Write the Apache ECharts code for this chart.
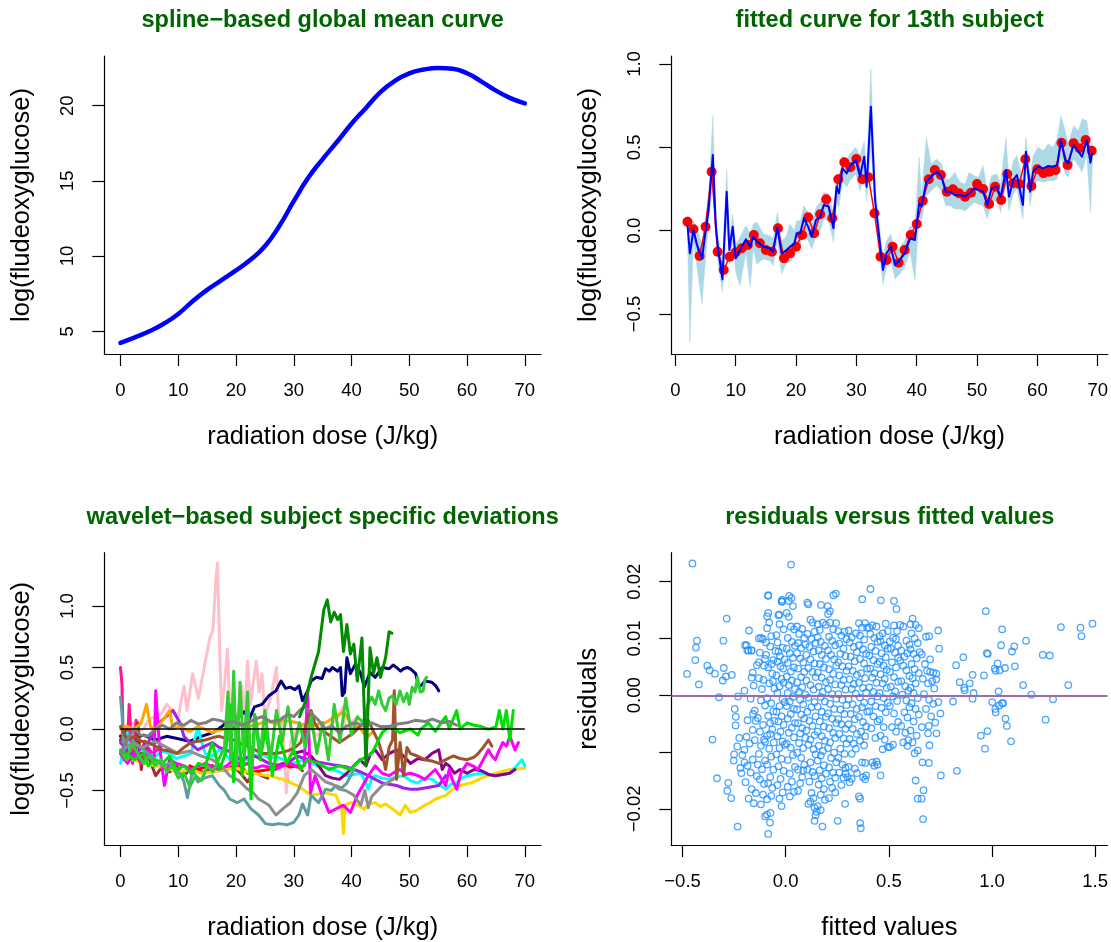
<!DOCTYPE html>
<html><head><meta charset="utf-8">
<script src="https://cdn.jsdelivr.net/npm/echarts@6/dist/echarts.min.js"></script>
<style>html,body{margin:0;padding:0;background:#fff}#c{width:1111px;height:942px}</style>
</head><body><div id="c"></div>
<script>
// ---------------- Panel 1: spline-based global mean curve ----------------
const meanX = [0,2.5,5,7.5,10,12.5,15,17.5,20,22.5,25,27.5,30,32.5,35,37.5,40,42.5,45,47.5,50,52.5,55,57.5,60,62.5,65,67.5,70];
const meanY = [4.23,4.6,5.0,5.5,6.15,7.0,7.75,8.4,9.05,9.75,10.65,12.0,13.65,15.2,16.45,17.6,18.8,19.85,20.9,21.65,22.15,22.4,22.5,22.45,22.15,21.6,21.0,20.5,20.15];

// ---------------- Panel 2: fitted curve for 13th subject ----------------
const redX = [2,3,4,5,6,7,8,9,10,11,12,13,14,15,16,17,18,19,20,21,22,23,24,25,26,27,28,29,30,31,32,33,34,35,36,37,38,39,40,41,42,43,44,45,46,47,48,49,50,51,52,53,54,55,56,57,58,59,60,61,62,63,64,65,66,67,68,69];
const redY = [0.054,0.008,-0.152,0.024,0.354,-0.126,-0.236,-0.156,-0.13,-0.106,
-0.086,-0.026,-0.076,-0.116,-0.126,0.014,-0.166,-0.136,-0.096,-0.026,
0.08,-0.016,0.098,0.188,0.074,0.308,0.41,0.38,0.43,0.308,
0.32,0.104,-0.156,-0.176,-0.096,-0.192,-0.116,-0.026,0.04,0.18,
0.308,0.364,0.334,0.234,0.248,0.224,0.204,0.228,0.28,0.25,
0.16,0.264,0.184,0.34,0.284,0.28,0.428,0.268,0.368,0.344,
0.354,0.364,0.528,0.394,0.524,0.494,0.544,0.48];
const blueX = [2,2.4,3,3.5,4.4,5.5,6.2,6.7,7.1,7.8,8.5,8.95,9.5,10,10.7,11.7,12.4,12.9,13.5,14.6,15.7,16.2,16.9,17.6,18.3,19,19.7,20.1,20.7,21.3,22,22.6,23.3,24,24.6,25.4,26.2,26.7,27.1,27.7,28.4,28.9,29.9,30.6,31.3,31.7,32.4,33.1,33.9,34.4,35,35.7,36.4,37.2,38,38.9,39.7,40.4,40.8,41.6,42.4,43.3,44.1,44.8,45.5,46.3,47.2,48,48.7,49.5,50.2,51,51.7,52.4,53.3,53.9,54.8,55.3,56,56.6,57.6,58.1,58.8,59.3,60.1,61,61.8,62.6,63.3,63.9,64.6,65.1,66,66.8,67.4,68.2,68.8,69.1];
const blueY = [0.034,-0.136,0.004,-0.076,-0.166,0.124,0.454,0.024,-0.116,-0.292,
0.234,-0.116,0.024,-0.166,-0.116,-0.052,-0.096,-0.036,-0.066,-0.096,
-0.106,-0.128,0.018,-0.136,-0.12,-0.096,-0.08,-0.016,-0.016,0.074,
0.024,-0.036,0.064,0.084,0.154,0.144,0.014,0.264,0.224,0.374,
0.344,0.384,0.424,0.324,0.444,0.264,0.744,0.184,-0.076,-0.236,
-0.136,-0.096,-0.206,-0.176,-0.136,-0.046,-0.056,0.164,0.144,0.294,
0.324,0.354,0.324,0.234,0.234,0.214,0.214,0.204,0.224,0.254,
0.244,0.234,0.154,0.254,0.264,0.2,0.364,0.204,0.304,0.334,
0.154,0.474,0.234,0.354,0.384,0.374,0.388,0.384,0.394,0.544,
0.424,0.404,0.514,0.474,0.444,0.544,0.408,0.468];
const bandLo = [-0.02,-0.67,-0.06,-0.2,-0.44,0.05,0.3,-0.05,-0.2,-0.37,
0.05,-0.2,-0.06,-0.25,-0.33,-0.13,-0.34,-0.11,-0.2,-0.17,
-0.18,-0.21,-0.06,-0.26,-0.2,-0.19,-0.16,-0.1,-0.09,-0.01,
-0.06,-0.11,-0.03,0.0,0.07,0.06,-0.07,0.17,0.14,0.29,
0.26,0.3,0.34,0.24,0.35,0.18,0.5,0.1,-0.16,-0.32,
-0.22,-0.18,-0.29,-0.26,-0.22,-0.13,-0.3,0.08,0.06,0.21,
0.24,0.27,0.24,0.15,0.15,0.13,0.13,0.12,0.14,0.17,
0.16,0.15,0.07,0.17,0.18,0.11,0.28,0.12,0.22,0.25,
0.07,0.38,0.15,0.27,0.3,0.29,0.3,0.3,0.31,0.45,
0.34,0.32,0.43,0.39,0.35,0.45,0.11,0.38];
const bandHi = [0.09,0.07,0.06,0.02,-0.08,0.2,0.69,0.12,-0.04,-0.2,
0.37,-0.05,0.1,-0.08,-0.04,0.03,-0.02,0.04,0.05,-0.02,
-0.03,-0.05,0.11,-0.06,-0.04,0.04,0.0,0.06,0.06,0.15,
0.11,0.04,0.14,0.17,0.23,0.22,0.1,0.34,0.3,0.45,
0.42,0.46,0.5,0.45,0.54,0.34,0.97,0.27,0.0,-0.15,
-0.06,-0.02,-0.13,-0.1,-0.06,0.03,0.02,0.44,0.22,0.56,
0.4,0.43,0.4,0.31,0.31,0.35,0.29,0.28,0.35,0.33,
0.32,0.39,0.23,0.33,0.34,0.28,0.56,0.28,0.42,0.45,
0.3,0.56,0.32,0.45,0.5,0.48,0.52,0.5,0.55,0.69,
0.6,0.52,0.63,0.6,0.67,0.66,0.5,0.53];

// ---------------- Panel 3: wavelet-based subject specific deviations ----------------
const devPink = [[0,-0.05],[1,0.02],[2,0.05],[3,-0.02],[4,0.0],[5,0.08],[6,0.1],[7,0.12],[8,0.2],[9,0.15],[10,0.1],[11,0.35],[11.5,0.15],[12.5,0.45],[13.5,0.25],[14.5,0.5],[15.5,0.75],[16,0.8],[16.5,1.2],[16.8,1.35],[17.2,0.6],[17.5,0.15],[18,0.35],[18.5,0.65],[19,0.1],[19.5,0.3],[20,0.0],[21,0.35],[21.5,0.1],[22,0.55],[22.5,0.2],[23.5,0.55],[24,0.3],[24.5,0.45],[25,0.1],[26,0.25],[27,0.5],[27.5,0.0],[28,0.1],[28.7,-0.52],[29.5,-0.1],[30.5,0.0],[32,0.05],[34,-0.05],[36,0.02],[37.5,0.08],[38.5,0.18],[39,0.0],[40.5,0.08],[42,0.0]];
const devDeepPink = [[0,0.5],[0.25,0.37],[0.55,-0.25],[1.2,-0.17],[1.5,0.2],[2.1,-0.28],[2.7,0.07],[3.3,-0.22],[4.2,-0.11],[5.5,-0.2],[7,-0.15]];
const devBrown = [[0,-0.09],[0.8,0.0],[1.5,-0.2],[2.4,-0.25],[3,0.05],[3.6,-0.33],[4.2,-0.1],[4.8,-0.22],[6.1,-0.38],[7.3,-0.3],[8.5,-0.35],[9.7,-0.3],[11,-0.38],[12.2,-0.32],[13.4,-0.33],[14.6,-0.36],[15.9,-0.3],[17.1,-0.32],[18.3,-0.33],[19.5,-0.3],[20.8,-0.36],[22,-0.43],[23.2,-0.35],[24.4,-0.38],[25.5,-0.4]];
const devRed = [[12,-0.3],[13.4,-0.33],[14.6,-0.31],[15.9,-0.3],[17.1,-0.34],[18.3,-0.33],[19.5,-0.31],[20.8,-0.3],[22,-0.36],[23.2,-0.35],[24.4,-0.34],[25.7,-0.33],[27,-0.3],[28.1,-0.28],[29.4,-0.31],[30.6,-0.3],[31.5,-0.34]];
const devGold = [[0,-0.2],[2,-0.25],[4,-0.28],[6,-0.3],[8,-0.32],[10,-0.35],[12,-0.33],[14,-0.36],[16,-0.35],[18,-0.33],[20,-0.32],[22,-0.35],[24,-0.37],[25.7,-0.38],[28.1,-0.41],[30.6,-0.46],[33,-0.54],[35.5,-0.52],[37.3,-0.54],[38.3,-0.65],[38.6,-0.85],[38.9,-0.62],[39.8,-0.6],[41,-0.62],[42.2,-0.65],[43,-0.61],[44.1,-0.6],[45,-0.63],[45.9,-0.61],[47.1,-0.65],[48.4,-0.7],[49.3,-0.62],[50.2,-0.68],[51.4,-0.66],[52.7,-0.62],[53.6,-0.6],[54.5,-0.57],[56.3,-0.54],[57.6,-0.49],[58.8,-0.46],[60.6,-0.44],[62.5,-0.4],[64.9,-0.36],[67.4,-0.33],[70,-0.32]];
const devCyan = [[0,-0.28],[0.6,-0.15],[1.2,-0.03],[1.8,-0.25],[2.6,-0.2],[3.6,-0.17],[4.8,-0.2],[6.1,-0.22],[7.3,-0.18],[8.5,-0.2],[9.7,-0.24],[11,-0.22],[12.2,-0.2],[13.4,0.02],[14,-0.1],[14.7,-0.2],[15.9,-0.22],[17.1,-0.17],[18.4,-0.22],[19.6,-0.28],[20.8,-0.26],[22,-0.25],[23.2,-0.22],[24.5,-0.2],[25.7,-0.24],[26.9,-0.22],[28.1,-0.25],[29.4,-0.28],[30.6,-0.27],[31.8,-0.25],[33,-0.28],[34.3,-0.3],[35.5,-0.31],[36.7,-0.33],[37.9,-0.35],[39.2,-0.38],[40.4,-0.37],[41.6,-0.36],[42.3,-0.42],[42.9,-0.49],[43.5,-0.4],[44.1,-0.38],[45.3,-0.4],[46.5,-0.41],[47.8,-0.39],[49,-0.38],[50.2,-0.42],[51.4,-0.44],[52.7,-0.4],[53.9,-0.41],[55.1,-0.45],[56.3,-0.49],[57.2,-0.45],[58.2,-0.44],[59.1,-0.4],[60,-0.38],[61.2,-0.37],[62.5,-0.36],[63.7,-0.37],[64.9,-0.38],[66.2,-0.37],[67.4,-0.36],[68.6,-0.3],[69.5,-0.25],[70,-0.3]];
const devPurple = [[0,-0.11],[1.2,-0.18],[2.4,-0.22],[3.6,-0.15],[4.8,-0.11],[5.8,-0.02],[6.7,0.05],[7.9,0.1],[9.1,0.15],[9.7,0.1],[10.3,0.05],[11,-0.06],[12.2,-0.12],[13.4,-0.17],[14.6,-0.14],[15.9,-0.11],[17.1,-0.15],[18.3,-0.17],[19.5,-0.2],[20.8,-0.25],[22,-0.23],[23.2,-0.22],[24.5,-0.25],[25.7,-0.28],[26.9,-0.29],[28.1,-0.3],[29.4,-0.26],[30.6,-0.22],[31.8,-0.24],[33,-0.25],[34.3,-0.27],[35.5,-0.28],[36.7,-0.29],[37.9,-0.3],[39.2,-0.31],[40.4,-0.33],[41.6,-0.35],[42.9,-0.38],[44.1,-0.41],[45.3,-0.44],[46.5,-0.45],[47.8,-0.46],[49,-0.48],[50.2,-0.49],[51.4,-0.49],[52.7,-0.48],[53.9,-0.47],[55.1,-0.46],[55.7,-0.42],[56.3,-0.38]];
const devDarkMagenta = [[30,-0.2],[31.5,-0.18],[33,-0.22],[34.3,-0.3],[35.5,-0.38],[36.7,-0.4],[37.9,-0.41],[39.2,-0.36],[40.4,-0.3],[41.5,-0.25],[42.5,-0.3],[43.3,-0.2],[44.1,-0.17],[45.3,-0.25],[46.5,-0.2],[47.8,-0.17],[49,-0.22],[50.2,-0.28],[51.5,-0.24],[52.7,-0.25],[53.9,-0.2],[55.1,-0.17],[55.7,-0.33],[56.3,-0.28],[56.9,-0.3],[57.8,-0.36],[58.8,-0.33],[60,-0.36],[61.2,-0.33],[62.5,-0.34],[63.7,-0.37],[64.9,-0.38],[66.2,-0.37],[67.4,-0.36],[68.3,-0.33]];
const devMagenta = [[0,-0.2],[1.2,-0.28],[2.4,-0.2],[3.6,-0.28],[4.8,-0.17],[5.8,-0.28],[6.1,0.31],[6.7,-0.11],[7.6,-0.46],[8.5,-0.25],[9.7,-0.28],[11,-0.3],[12.2,-0.33],[13.5,-0.3],[14.7,-0.28],[16,-0.31],[17.1,-0.33],[18.4,-0.3],[19.6,-0.25],[21,-0.3],[22,-0.28],[23.3,-0.32],[24.5,-0.3],[25.7,-0.31],[26.9,-0.33],[28.1,-0.3],[29.4,-0.28],[30.6,-0.31],[31.8,-0.3],[32.4,0.31],[32.9,-0.52],[33.7,-0.38],[34.9,-0.54],[36.1,-0.68],[37.3,-0.65],[38.6,-0.62],[39.8,-0.68],[41,-0.54],[42.9,-0.38],[44.1,-0.3],[45.3,-0.36],[46.5,-0.38],[47.5,-0.35],[48.4,-0.33],[49.3,-0.37],[50.2,-0.36],[51.5,-0.38],[52.7,-0.41],[53.6,-0.37],[54.5,-0.33],[55.5,-0.4],[56.3,-0.46],[56.9,-0.33],[57.5,-0.42],[58.2,-0.49],[59,-0.35],[60,-0.28],[61,-0.3],[61.9,-0.33],[62.8,-0.25],[63.7,-0.17],[64.3,-0.22],[64.9,-0.25],[65.5,-0.18],[66.2,-0.11],[66.8,-0.14],[67.4,-0.06],[68.3,-0.17],[68.9,-0.11]];
const devCadet = [[0,0.26],[0.3,0.1],[0.5,-0.11],[1.5,-0.05],[2.4,-0.11],[3.5,-0.15],[4.8,-0.2],[6,-0.25],[7.3,-0.3],[8.5,-0.28],[9.7,-0.33],[10.5,-0.38],[11,-0.43],[11.6,-0.56],[12.5,-0.33],[13.4,-0.43],[14.5,-0.4],[15.9,-0.38],[17.1,-0.46],[18,-0.5],[18.9,-0.57],[20.2,-0.6],[21.4,-0.57],[22.6,-0.65],[23.9,-0.7],[25.1,-0.77],[26.3,-0.78],[27.5,-0.77],[28.8,-0.78],[30,-0.76],[30.9,-0.7],[31.5,-0.61],[32.4,-0.7],[33,-0.54],[34.3,-0.6],[35.5,-0.49],[36.5,-0.5],[37.3,-0.46],[38.3,-0.48],[39.2,-0.44],[40.4,-0.33]];
const devGray2 = [[0,-0.18],[2,-0.12],[4,-0.15],[6,-0.1],[8,-0.15],[10,-0.2],[12,-0.18],[14,-0.22],[15.9,-0.25],[17.5,-0.3],[18.9,-0.38],[20.5,-0.42],[22,-0.49],[23,-0.52],[23.9,-0.57],[25,-0.6],[25.7,-0.62],[26.9,-0.7],[28.1,-0.65],[29.4,-0.6],[30.6,-0.52],[31.8,-0.38],[33,-0.33],[34.3,-0.38],[35.5,-0.43],[36.7,-0.45],[37.9,-0.49],[39,-0.5],[40.4,-0.54],[41.6,-0.62],[42.3,-0.5],[42.9,-0.64],[43.5,-0.55],[44.1,-0.52],[45.3,-0.46],[46.5,-0.43],[47.5,-0.4]];
const devOrange = [[0,0.0],[1.2,0.02],[2.4,0.0],[3.6,0.05],[4.5,0.2],[5.2,0.02],[6.1,0.0],[7,0.05],[8.5,0.15],[9.1,0.0],[10,0.02],[11,0.0],[12,-0.02],[13.4,0.02],[14.5,0.0],[15.9,-0.03],[17,-0.01],[18.3,0.0],[19.5,0.03],[20.8,0.05],[22,0.02],[23.2,0.03],[24.5,0.05],[25.7,0.06],[27,0.04],[28.1,0.07],[29.5,0.06],[30.6,0.05],[31.8,0.03],[33,0.02],[34.3,0.04],[35.5,0.05],[36.5,0.08],[37.3,0.1],[38.6,0.14],[39.2,0.1],[39.8,0.05],[40.7,0.02],[41.6,0.0],[42.2,-0.04],[42.9,-0.06],[43.5,-0.03]];
const devSienna = [[0,0.02],[1.2,-0.09],[2.4,-0.06],[3.6,-0.1],[4.8,-0.11],[6,-0.14],[7.3,-0.17],[8.5,-0.18],[9.7,-0.2],[11,-0.15],[12.2,-0.11],[13.5,-0.1],[14.7,-0.09],[16,-0.07],[17.1,-0.06],[18.4,-0.08],[19.6,-0.09],[20.8,-0.12],[22,-0.14],[23.3,-0.17],[24.5,-0.2],[25.7,-0.2],[26.9,-0.2],[28.1,-0.19],[29.4,-0.17],[30.5,-0.14],[31.2,-0.11],[32.2,0.05],[33,0.15],[33.6,0.05],[34.3,0.0],[35.5,-0.03],[36.7,-0.07],[37.9,-0.11],[39.2,-0.07],[40.4,-0.03],[41.6,0.03],[42.9,0.07],[43.8,-0.02],[44.7,-0.11],[45.3,-0.2],[45.9,-0.33],[46.5,-0.15],[47.1,-0.09],[47.4,0.31],[47.8,-0.41],[48.4,-0.11],[49,-0.38],[49.6,-0.15],[50.2,-0.2],[51.4,-0.22],[52.7,-0.25],[53.9,-0.26],[55.1,-0.28],[56.3,-0.25],[57.6,-0.22],[58.8,-0.24],[60,-0.25],[61.2,-0.23],[61.9,-0.2],[62.8,-0.15],[63.7,-0.09],[64.3,-0.14]];
const devGreenBright = [[0,-0.17],[1.5,-0.22],[2.4,-0.25],[4,-0.2],[4.8,-0.3],[6,-0.25],[7.3,-0.28],[8.5,-0.22],[9.7,-0.33],[11,-0.3],[12.2,-0.36],[13.5,-0.28],[14.7,-0.3],[15.9,-0.11],[17.1,-0.33],[18.2,-0.2],[18.9,0.2],[19.6,-0.43],[20.2,0.1],[21.1,-0.38],[22,0.05],[22.6,-0.57],[23.2,0.12],[24.2,-0.25],[25.1,0.0],[26.3,-0.38],[27.5,-0.06],[28.8,-0.28],[30,-0.17],[31.2,-0.33],[32.4,-0.25],[34.3,-0.28],[36.1,-0.33],[37.9,-0.3],[39.8,-0.33],[41.6,-0.25],[43.5,-0.2],[45.3,-0.03],[46.5,0.02],[48.4,-0.03],[50.2,0.0],[51.5,-0.05],[52,0.0],[53.3,0.05],[54.5,-0.02],[55.5,0.05],[56.3,0.1],[56.9,0.0],[58.2,0.15],[58.8,0.0],[60,0.05],[61.2,0.03],[62.5,0.02],[63.5,0.0],[64,0.0],[65,0.02],[65.6,0.15],[66.2,0.0],[66.8,0.15],[67.4,-0.09],[68,0.15]];
const devLime = [[0,-0.18],[1,-0.25],[2,-0.12],[3,-0.2],[4,-0.28],[5,-0.22],[6,-0.3],[7,-0.25],[8,-0.35],[9,-0.3],[10,-0.4],[11,-0.36],[12,-0.47],[13,-0.38],[14,-0.42],[15,-0.3],[16,-0.35],[17,-0.25],[18,-0.15],[18.6,0.3],[19.1,-0.25],[19.6,0.47],[20.1,-0.3],[20.7,0.38],[21.3,-0.2],[22,0.3],[22.6,-0.35],[23.4,0.1],[24.2,-0.2],[25,0.15],[26,-0.25],[27,0.15],[28,-0.1],[29,0.18],[30,-0.15],[31,0.05],[32,-0.15],[33,0.1],[34,-0.2],[35,0.05],[36,-0.25],[37,0.2],[38,-0.1],[39,0.25],[40,-0.05],[41,0.1],[42,0.05],[42.8,0.2],[43.5,0.26],[44.1,0.2],[44.7,0.31],[45.3,0.2],[45.9,0.15],[46.5,0.25],[47.1,0.27],[47.7,0.2],[48.4,0.31],[49,0.22],[49.6,0.29],[50,0.2],[50.5,0.34],[51,0.3],[51.4,0.42],[51.9,0.3],[52.4,0.31],[52.7,0.4],[53,0.42]];
const devGray = [[0,-0.2],[1,-0.1],[2.4,0.0],[3.5,-0.05],[4.8,-0.06],[6,0.0],[7.3,0.03],[8.5,0.0],[9.7,0.05],[11,0.03],[12.2,0.07],[13.5,0.04],[14.7,0.05],[16,0.08],[17.1,0.07],[18.5,0.05],[19.6,0.06],[21,0.03],[22,0.05],[23.3,0.08],[24.5,0.1],[26,0.06],[27.5,0.07],[29,0.12],[30,0.1],[31,0.15],[31.8,0.18],[33,0.13],[34.3,0.07],[35.5,0.0],[36.7,0.02],[37.9,-0.03],[39,0.02],[40.4,0.05],[42,0.03],[43.5,0.05],[45,0.02],[46.5,0.02],[48,0.04],[49.6,0.05],[51,0.07],[52.7,0.06],[54,0.08],[55.7,0.05],[57,0.06],[58.2,0.03]];
const devNavy = [[0,-0.06],[2,-0.08],[4,-0.05],[6,-0.09],[8,-0.06],[10,-0.08],[12,-0.1],[14,-0.06],[16,-0.03],[17,0.0],[18.3,0.05],[19.5,0.0],[20.5,0.1],[21.4,0.14],[22.3,0.08],[23.2,0.18],[24.5,0.2],[25.7,0.27],[26.9,0.31],[27.8,0.39],[28.6,0.33],[29.4,0.34],[30.2,0.32],[30.9,0.35],[31.5,0.23],[32.4,0.31],[33,0.39],[33.9,0.42],[34.9,0.41],[35.5,0.49],[36.2,0.47],[36.7,0.5],[37.6,0.47],[38.1,0.5],[38.4,0.27],[38.8,0.3],[39.2,0.58],[39.8,0.45],[40.7,0.53],[41.6,0.45],[42.2,0.34],[43.2,0.46],[44.1,0.42],[45.3,0.5],[46.5,0.49],[47.2,0.52],[47.8,0.5],[48.5,0.47],[49,0.49],[49.6,0.5],[50.2,0.49],[51.1,0.45],[51.7,0.34],[52.2,0.36],[52.7,0.39],[53.9,0.38],[54.6,0.35],[55.1,0.31]];
const devDarkGreen = [[31,0.1],[32,0.22],[33,0.42],[34.3,0.63],[35.2,0.97],[35.8,1.05],[36.4,0.87],[37,0.95],[37.6,0.89],[38.1,0.93],[38.6,0.63],[39.2,0.85],[39.8,0.61],[40.4,0.69],[41,0.39],[41.8,0.74],[42.2,0.15],[42.5,-0.3],[42.8,0.1],[43.2,0.66],[43.8,0.45],[44.4,0.58],[45,0.42],[45.9,0.58],[46.5,0.79],[47,0.78]];
const zeroLineX = [0, 70];
const zeroLineY = [0, 0];

// ---------------- Panel 4: residuals versus fitted values ----------------
const residSparse = [[-0.452,0.0232],[0.026,0.0230],[-0.478,0.00375],[-0.438,0.0062],[-0.435,0.0084],[-0.43,0.0096],[-0.421,0.0019],[-0.38,0.0052],[-0.369,0.0044],[-0.343,0.0038],[-0.323,-0.00035],[-0.355,-0.0078],[-0.302,0.0096],[-0.305,0.0026],[-0.3,0.0048],[-0.286,0.0135],[-0.29,0.0033],[-0.261,0.0036],[-0.333,-0.0146],[-0.283,-0.0168],[-0.278,-0.0154],[-0.264,-0.0181],[-0.247,-0.0024],[-0.242,-0.0038],[-0.243,-0.0053],[-0.231,-0.0002],[-0.233,-0.0231],[-0.235,-0.009],[-0.25,-0.0104],[-0.252,-0.0115],[-0.178,0.0114],[-0.197,0.0088],[-0.186,0.0079],[-0.166,0.0079],[-0.085,0.0176],[-0.085,0.0145],[-0.085,-0.0244],[-0.1,-0.0213],[-0.091,-0.021],[-0.076,-0.0224],[-0.074,-0.0207],[-0.031,0.0142],[-0.017,0.0165],[-0.017,0.0168],[0.017,0.0175],[0.171,0.0159],[0.204,0.0157],[0.214,0.0148],[0.231,0.0176],[0.243,0.0179],[0.178,-0.0231],[0.252,-0.0221],[0.288,-0.0191],[0.361,-0.0225],[0.364,-0.0234],[0.355,-0.0178],[0.361,-0.0182],[0.371,0.0169],[0.411,0.0187],[0.461,0.0167],[0.525,0.0166],[0.537,0.0152],[0.666,-0.0218],[0.668,-0.0167],[0.63,-0.015],[0.64,-0.0182],[0.659,-0.0182],[0.752,-0.0141],[0.694,-0.0119],[0.663,-0.0118],[0.697,-0.0088],[0.731,-0.0067],[0.694,-0.0054],[0.75,-0.0032],[0.744,0.0082],[0.739,0.0114],[0.695,0.0104],[0.83,-0.0133],[0.811,-0.0011],[0.826,0.0053],[0.844,0.0023],[0.861,0.0067],[0.865,0.0013],[0.868,0.0009],[0.892,0.0021],[0.906,0.0036],[0.911,0.0004],[0.906,-0.0006],[0.946,-0.0071],[0.961,0.0035],[0.97,0.0148],[0.966,-0.0094],[0.978,-0.0063],[0.975,0.0074],[0.98,0.0073],[1.001,-0.0012],[1.013,0.0047],[1.018,0.0043],[1.016,-0.0024],[1.018,-0.003],[1.027,0.0056],[1.032,0.0007],[1.037,0.0044],[1.035,-0.0018],[1.044,0.0088],[1.049,0.0116],[1.049,-0.0014],[1.054,-0.0014],[1.063,0.0048],[1.065,-0.0041],[1.072,-0.0054],[1.092,-0.0081],[1.097,0.0077],[1.108,0.0086],[1.111,0.0051],[1.151,0.0018],[1.165,0.0096],[1.191,0.0001],[1.246,0.0071],[1.26,-0.0043],[1.28,0.007],[1.296,-0.0007],[1.334,0.012],[1.37,0.0018],[1.429,0.0119],[1.434,0.0104],[1.487,0.0126]];
const residCloud = [
[-0.19,0.0088],[-0.18,0.0079],[-0.165,0.0079],[-0.2,0.0008],[-0.17,-0.0006],[-0.185,-0.0044],[-0.16,-0.0061],[-0.19,-0.0073],[-0.175,-0.0085],[-0.2,-0.0096],[-0.16,-0.0113],[-0.185,-0.0124],[-0.17,-0.0136],[-0.195,-0.0153],[-0.165,-0.0165],[-0.18,-0.0182],[-0.155,-0.019],[-0.2,-0.0118],[-0.21,-0.0105],[-0.22,-0.0128],[-0.215,-0.0137],[-0.225,-0.0075],[-0.16,0.004],[-0.165,0.0031],[-0.155,0.0017],[-0.15,-0.0027],[-0.158,-0.0033],[-0.145,-0.0045],[-0.15,-0.0079],[-0.14,-0.0142],[-0.145,-0.0172],[-0.135,-0.0122],[-0.14,0.0053],[-0.13,0.01],
[-0.13,0.0058],[-0.12,0.0101],[-0.11,0.0099],[-0.125,0.0075],[-0.105,0.0052],[-0.13,0.003],[-0.115,0.0011],[-0.12,-0.0009],[-0.1,-0.0018],[-0.135,-0.004],[-0.11,-0.0052],[-0.125,-0.0064],[-0.105,-0.0078],[-0.12,-0.0089],[-0.13,-0.0103],[-0.1,-0.0115],[-0.115,-0.013],[-0.125,-0.0148],[-0.105,-0.0156],[-0.11,-0.0175],[-0.12,-0.0192],[-0.1,-0.0082],[-0.108,0.0027],[-0.1,0.0064],[-0.095,0.0093],[-0.09,0.0118],
[-0.09,0.0139],[-0.085,0.0175],[-0.08,0.0128],[-0.075,0.0086],[-0.07,0.0104],[-0.095,0.0071],[-0.06,0.0062],[-0.085,0.0049],[-0.065,0.0038],[-0.08,0.0021],[-0.055,0.0012],[-0.09,-0.0005],[-0.07,-0.0014],[-0.06,-0.0028],[-0.085,-0.0036],[-0.075,-0.0049],[-0.065,-0.006],[-0.09,-0.0071],[-0.058,-0.0083],[-0.08,-0.0094],[-0.07,-0.0108],[-0.09,-0.0122],[-0.06,-0.0131],[-0.075,-0.0144],[-0.085,-0.0155],[-0.065,-0.0163],[-0.07,-0.0177],[-0.09,-0.0183],[-0.075,-0.0068],[-0.055,-0.0045],[-0.062,0.0025],[-0.068,0.0055],[-0.05,0.0078],
[-0.045,0.0106],[-0.03,0.0125],[-0.02,0.0165],[-0.04,0.0093],[-0.01,0.0116],[-0.035,0.0077],[-0.015,0.0084],[-0.04,0.0059],[-0.025,0.0051],[-0.005,0.0063],[-0.045,0.0035],[-0.02,0.0029],[-0.03,0.0016],[-0.01,0.0022],[-0.04,0.0004],[-0.015,-0.0006],[-0.03,-0.0019],[-0.005,-0.0012],[-0.045,-0.0029],[-0.02,-0.0037],[-0.035,-0.0046],[-0.01,-0.0052],[-0.025,-0.0064],[-0.04,-0.0072],[-0.015,-0.0081],[-0.03,-0.0093],[-0.005,-0.0087],[-0.045,-0.0104],[-0.02,-0.0112],[-0.035,-0.0125],[-0.01,-0.0133],[-0.025,-0.0147],[-0.04,-0.0158],[-0.015,-0.0171],[-0.03,-0.0182],[-0.02,-0.0195],[-0.035,0.0141],[-0.012,0.0047],[-0.028,0.0069],
[0.005,0.0145],[0.015,0.0138],[0.025,0.0121],[0.04,0.0116],[0.01,0.0101],[0.03,0.0094],[0.045,0.0087],[0.005,0.0082],[0.02,0.0074],[0.035,0.0066],[0.01,0.0057],[0.04,0.0049],[0.025,0.0042],[0.005,0.0033],[0.03,0.0026],[0.015,0.0018],[0.045,0.0011],[0.01,0.0004],[0.035,-0.0003],[0.02,-0.0011],[0.005,-0.0019],[0.04,-0.0024],[0.025,-0.0033],[0.01,-0.0041],[0.045,-0.0049],[0.03,-0.0057],[0.015,-0.0066],[0.04,-0.0074],[0.005,-0.0085],[0.025,-0.0092],[0.035,-0.0105],[0.01,-0.0114],[0.045,-0.0126],[0.02,-0.0138],[0.03,-0.0152],[0.01,-0.0161],[0.04,-0.017],[0.02,-0.0178],[0.035,0.0157],[0.015,0.0166],[0.028,0.0171],
[0.055,0.0121],[0.065,0.0108],[0.08,0.0117],[0.09,0.0101],[0.06,0.0092],[0.075,0.0083],[0.095,0.0089],[0.055,0.0074],[0.07,0.0065],[0.085,0.0058],[0.06,0.0047],[0.09,0.0041],[0.075,0.0032],[0.055,0.0023],[0.08,0.0014],[0.065,0.0006],[0.095,0.0001],[0.07,-0.0008],[0.085,-0.0016],[0.055,-0.0025],[0.075,-0.0034],[0.09,-0.0041],[0.06,-0.0049],[0.08,-0.0058],[0.07,-0.0067],[0.095,-0.0075],[0.065,-0.0084],[0.085,-0.0093],[0.055,-0.0101],[0.075,-0.011],[0.09,-0.0122],[0.06,-0.0131],[0.08,-0.0144],[0.07,-0.0155],[0.06,-0.0168],[0.085,-0.0132],
[0.105,0.0163],[0.11,0.016],[0.12,0.0133],[0.13,0.0128],[0.14,0.0112],[0.105,0.0108],[0.125,0.0099],[0.145,0.0092],[0.115,0.0085],[0.135,0.0077],[0.1,0.0071],[0.12,0.0063],[0.14,0.0056],[0.11,0.0048],[0.13,0.0041],[0.145,0.0032],[0.1,0.0026],[0.12,0.0018],[0.135,0.001],[0.11,-0.0004],[0.14,-0.0012],[0.125,-0.0021],[0.105,-0.0029],[0.145,-0.0037],[0.115,-0.0045],[0.13,-0.0054],[0.1,-0.0062],[0.14,-0.007],[0.12,-0.0078],[0.11,-0.0087],[0.135,-0.0095],[0.145,-0.0104],[0.12,-0.0118],[0.105,-0.0131],[0.13,-0.0135],[0.14,-0.0142],[0.115,-0.0152],[0.125,-0.0172],[0.135,-0.0181],[0.11,-0.0191],[0.14,-0.0198],[0.12,-0.0187],[0.145,-0.0211],[0.14,-0.0221],[0.15,-0.0205],
[0.155,0.0125],[0.165,0.0115],[0.18,0.0128],[0.195,0.0124],[0.155,0.0102],[0.17,0.0094],[0.19,0.0087],[0.16,0.0079],[0.175,0.0071],[0.195,0.0064],[0.165,0.0055],[0.185,0.0049],[0.155,0.004],[0.175,0.0031],[0.195,0.0023],[0.16,0.0015],[0.18,0.0006],[0.17,-0.0003],[0.19,-0.0011],[0.155,-0.002],[0.175,-0.0029],[0.195,-0.0038],[0.165,-0.0046],[0.185,-0.0055],[0.155,-0.0064],[0.175,-0.0072],[0.19,-0.008],[0.16,-0.0089],[0.18,-0.0098],[0.17,-0.0106],[0.155,-0.0115],[0.185,-0.0123],[0.165,-0.0132],[0.195,-0.0138],[0.175,-0.0146],[0.16,-0.0157],[0.185,-0.0165],[0.17,-0.0175],[0.19,-0.0184],[0.155,-0.0195],[0.17,-0.0202],
[0.205,0.0143],[0.215,0.0128],[0.23,0.0116],[0.245,0.0127],[0.21,0.0103],[0.225,0.0096],[0.24,0.0088],[0.205,0.0079],[0.22,0.0071],[0.235,0.0063],[0.245,0.0052],[0.21,0.0046],[0.23,0.0038],[0.215,0.0027],[0.24,0.0019],[0.205,0.0011],[0.225,0.0002],[0.245,-0.0006],[0.215,-0.0015],[0.235,-0.0024],[0.205,-0.0032],[0.225,-0.0041],[0.245,-0.0049],[0.21,-0.0058],[0.23,-0.0066],[0.24,-0.0075],[0.215,-0.0083],[0.205,-0.0093],[0.235,-0.0101],[0.22,-0.011],[0.245,-0.0118],[0.21,-0.0127],[0.23,-0.0136],[0.24,-0.0145],[0.215,-0.0152],[0.225,-0.0163],[0.24,-0.0171],[0.21,-0.0181],
[0.255,0.0113],[0.27,0.0105],[0.285,0.0112],[0.295,0.0099],[0.26,0.0091],[0.28,0.0082],[0.265,0.0073],[0.29,0.0069],[0.255,0.0058],[0.275,0.0051],[0.295,0.0043],[0.26,0.0035],[0.28,0.0027],[0.27,0.0018],[0.29,0.001],[0.255,0.0002],[0.275,-0.0008],[0.295,-0.0017],[0.265,-0.0025],[0.285,-0.0033],[0.255,-0.0042],[0.27,-0.0051],[0.29,-0.0059],[0.26,-0.0068],[0.28,-0.0076],[0.295,-0.0085],[0.265,-0.0094],[0.285,-0.0103],[0.255,-0.011],[0.275,-0.0122],[0.29,-0.0128],[0.26,-0.0136],[0.28,-0.0145],[0.27,-0.0158],[0.29,-0.0138],[0.3,-0.0144],
[0.305,0.0114],[0.32,0.0102],[0.34,0.0109],[0.31,0.0093],[0.33,0.0085],[0.345,0.0076],[0.315,0.0068],[0.335,0.006],[0.305,0.0051],[0.325,0.0043],[0.345,0.0036],[0.31,0.0028],[0.33,0.002],[0.32,0.0011],[0.34,0.0003],[0.305,-0.0007],[0.325,-0.0016],[0.345,-0.0024],[0.315,-0.0033],[0.335,-0.0042],[0.305,-0.0051],[0.325,-0.0059],[0.345,-0.0068],[0.31,-0.0077],[0.33,-0.0085],[0.34,-0.0094],[0.32,-0.0103],[0.305,-0.0126],[0.335,-0.0129],[0.345,-0.0137],[0.32,-0.0147],[0.31,-0.0153],
[0.355,0.0127],[0.37,0.0119],[0.385,0.0127],[0.395,0.0119],[0.36,0.0105],[0.38,0.0098],[0.355,0.0088],[0.375,0.0081],[0.39,0.0073],[0.36,0.0064],[0.38,0.0056],[0.395,0.0047],[0.365,0.0039],[0.385,0.003],[0.355,0.0022],[0.375,0.0013],[0.39,0.0005],[0.36,-0.0004],[0.38,-0.0013],[0.37,-0.0021],[0.395,-0.0029],[0.355,-0.0038],[0.375,-0.0047],[0.39,-0.0055],[0.365,-0.0064],[0.385,-0.0072],[0.36,-0.008],[0.38,-0.0088],[0.37,-0.0118],[0.385,-0.0119],[0.39,-0.0141],[0.375,-0.0144],[0.385,-0.0148],
[0.405,0.0119],[0.42,0.0123],[0.44,0.0121],[0.41,0.0108],[0.43,0.0101],[0.445,0.0094],[0.415,0.0085],[0.435,0.0078],[0.405,0.007],[0.425,0.0062],[0.445,0.0055],[0.41,0.0047],[0.43,0.0039],[0.42,0.0031],[0.44,0.0022],[0.405,0.0014],[0.425,0.0006],[0.445,-0.0002],[0.415,-0.0011],[0.435,-0.0019],[0.405,-0.0028],[0.425,-0.0037],[0.445,-0.0046],[0.415,-0.0058],[0.435,-0.0075],[0.42,-0.0118],[0.44,-0.0117],[0.43,-0.0124],[0.445,-0.0122],
[0.455,0.0104],[0.47,0.0109],[0.485,0.0126],[0.495,0.0113],[0.46,0.0095],[0.48,0.0088],[0.495,0.0082],[0.465,0.0074],[0.485,0.0067],[0.455,0.0059],[0.475,0.0052],[0.49,0.0045],[0.46,0.0037],[0.48,0.0029],[0.47,0.0021],[0.49,0.0013],[0.455,0.0004],[0.475,-0.0005],[0.495,-0.0013],[0.465,-0.0022],[0.485,-0.003],[0.455,-0.0043],[0.475,-0.0056],[0.46,-0.0071],[0.48,-0.0078],[0.495,-0.0091],[0.47,-0.0095],[0.46,-0.0141],
[0.505,0.0095],[0.52,0.0101],[0.535,0.0099],[0.545,0.0087],[0.51,0.0082],[0.53,0.0075],[0.545,0.0066],[0.515,0.0058],[0.535,0.0049],[0.505,0.0041],[0.525,0.0032],[0.545,0.0024],[0.51,0.0015],[0.53,0.0007],[0.52,-0.0002],[0.54,-0.001],[0.505,-0.0019],[0.525,-0.0032],[0.545,-0.0047],[0.515,-0.0056],[0.535,-0.0064],[0.52,-0.0087],[0.505,-0.0091],[0.54,0.0113],[0.525,0.0123],
[0.555,0.0124],[0.57,0.0121],[0.585,0.0096],[0.6,0.0089],[0.56,0.0079],[0.575,0.0068],[0.59,0.0074],[0.555,0.0061],[0.57,0.0052],[0.585,0.0044],[0.6,0.0034],[0.56,0.0025],[0.58,0.0016],[0.595,0.0008],[0.565,0.0001],[0.585,-0.0009],[0.6,-0.0021],[0.575,-0.003],[0.59,-0.0039],[0.56,-0.0054],[0.58,-0.0066],[0.595,-0.0079],[0.57,-0.0083],[0.59,-0.0089],
[0.605,0.0125],[0.615,0.0135],[0.63,0.0124],[0.645,0.0118],[0.61,0.0109],[0.625,0.01],[0.64,0.0092],[0.605,0.0081],[0.62,0.0073],[0.635,0.0065],[0.65,0.0076],[0.61,0.0055],[0.625,0.0046],[0.645,0.0039],[0.615,0.003],[0.63,0.0021],[0.605,0.0013],[0.62,0.0004],[0.64,-0.0005],[0.61,-0.0014],[0.63,-0.0024],[0.645,-0.0034],[0.62,-0.0046],[0.605,-0.0062],[0.635,-0.0071],[0.615,-0.0083],[0.64,-0.0097],[0.625,-0.0102],
[0.66,0.0072],[0.675,0.0055],[0.685,0.0043],[0.7,0.0041],[0.715,0.004],[0.73,0.0038],[0.665,0.0029],[0.69,0.0021],[0.71,0.0025],[0.72,0.0012],[0.67,0.0002],[0.695,-0.0008],[0.715,-0.0015],[0.68,-0.0024],[0.705,-0.0037],[0.725,-0.0048],[0.66,-0.0056],[0.69,-0.0067],[0.7,0.0063],[0.68,0.0103],[0.73,0.0028],[0.74,-0.0012]
];

// tick positions
const doseTicks = [0,10,20,30,40,50,60,70];
const meanTicks = [5,10,15,20];
const devTicks = [-0.5,0,0.5,1.0];
const residXTicks = [-0.5,0,0.5,1.0,1.5];
const residYTicks = [-0.02,-0.01,0,0.01,0.02];
const residYLabels = [-0.02,0,0.01,0.02];

// ---------------- chart ----------------
const FONT = "'Liberation Sans', Arial, Helvetica, sans-serif";
const TITLE_COLOR = '#006400';
function fmt(v, d) { const s = Math.abs(v).toFixed(d); return v < -1e-12 ? '\u2212' + s : s; }
const zip = (xs, ys) => xs.map((x, i) => [x, ys[i]]);

const G = [
  {left:104.3, top:56, width:436.7, height:298},
  {left:671.3, top:56, width:436.7, height:298},
  {left:104.3, top:552.7, width:436.7, height:297.3},
  {left:671.3, top:552.7, width:436.7, height:297.3}
];

function axis(kind, gi, min, max, ticks, labels, dec, name) {
  const isY = kind === 'y';
  return {
    type:'value', gridIndex:gi, min:min, max:max,
    axisLine:{show:true, onZero:false, lineStyle:{color:'#000', width:1.2}},
    axisTick:{show:true, inside:false, length:12, customValues:ticks, lineStyle:{color:'#000', width:1.2}},
    axisLabel:{show:true, customValues:labels, margin:27, rotate: isY ? 90 : 0,
      formatter:(v) => fmt(v, dec), color:'#000', fontSize:18.5, fontFamily:FONT},
    splitLine:{show:false},
    name:name, nameLocation:'middle', nameGap: isY ? 69 : 70,
    nameTextStyle:{fontSize:25.5, color:'#000', fontFamily:FONT}
  };
}

const titles = [
  ['spline\u2212based global mean curve', 322.7, 9],
  ['fitted curve for 13th subject', 889.7, 9],
  ['wavelet\u2212based subject specific deviations', 322.7, 506],
  ['residuals versus fitted values', 889.7, 506]
].map(t => ({text:t[0], left:t[1], top:t[2], textAlign:'center', padding:0,
  textStyle:{fontSize:23.5, fontWeight:'bold', color:TITLE_COLOR, fontFamily:FONT}}));

const devList = [
  [devPink, '#FFC0CB'], [devNavy, '#000080'], [devDeepPink, '#FF1493'], [devBrown, '#A52A2A'], [devRed, '#FF0000'],
  [devGold, '#FFD700'], [devCyan, '#00FFFF'], [devPurple, '#A020F0'], [devDarkMagenta, '#8B008B'],
  [devMagenta, '#FF00FF'], [devCadet, '#5F9EA0'], [devGray2, '#8F8F8F'], [devOrange, '#FFA500'],
  [devSienna, '#A0522D'], [devGreenBright, '#00E000'], [devLime, '#32CD32'], [devGray, '#7F7F7F'],
  [devDarkGreen, '#008B00']
];

const series = [];
// panel 1
series.push({type:'line', xAxisIndex:0, yAxisIndex:0, data:zip(meanX, meanY), symbol:'none', smooth:true,
  lineStyle:{color:'#0000FF', width:4.5, cap:'round', join:'round'}});
// panel 2 band
series.push({type:'custom', xAxisIndex:1, yAxisIndex:1, coordinateSystem:'cartesian2d', data:[[30,0]], silent:true,
  renderItem:function(params, api){
    const pts = [];
    for (let i = 0; i < blueX.length; i++) pts.push(api.coord([blueX[i], bandHi[i]]));
    for (let i = blueX.length - 1; i >= 0; i--) pts.push(api.coord([blueX[i], bandLo[i]]));
    return {type:'polygon', shape:{points:pts}, style:{fill:'#ADD8E6', stroke:'#ADD8E6', lineWidth:0.5}};
  }, z:1});
series.push({type:'line', xAxisIndex:1, yAxisIndex:1, data:zip(redX, redY), symbol:'circle', symbolSize:10,
  itemStyle:{color:'#FF0000'}, lineStyle:{color:'#FF0000', width:1.5}, z:2});
series.push({type:'line', xAxisIndex:1, yAxisIndex:1, data:zip(blueX, blueY), symbol:'none',
  lineStyle:{color:'#0000FF', width:2, join:'round'}, z:3});
// panel 3
devList.forEach((d, i) => series.push({type:'line', xAxisIndex:2, yAxisIndex:2, data:d[0], symbol:'none',
  lineStyle:{color:d[1], width:3, join:'round', cap:'round'}, z:2 + i * 0.01}));
series.push({type:'line', xAxisIndex:2, yAxisIndex:2, data:zip(zeroLineX, zeroLineY), symbol:'none',
  lineStyle:{color:'#000', width:1.6}, z:4});
// panel 4
series.push({type:'scatter', xAxisIndex:3, yAxisIndex:3, data:residCloud.concat(residSparse), symbol:'circle', symbolSize:6.5,
  itemStyle:{color:'rgba(0,0,0,0)', borderColor:'#1E90FF', borderWidth:1.3},
  markLine:{silent:true, symbol:'none', animation:false, label:{show:false},
    lineStyle:{color:'#A06AA8', width:2, type:'solid'}, data:[{yAxis:0}]}});

const option = {
  backgroundColor:'#fff', animation:false,
  title:titles,
  grid:G.map(g => Object.assign({containLabel:false}, g)),
  xAxis:[
    axis('x', 0, -2.8, 72.8, doseTicks, doseTicks, 0, 'radiation dose (J/kg)'),
    axis('x', 1, -0.68, 71.68, doseTicks, doseTicks, 0, 'radiation dose (J/kg)'),
    axis('x', 2, -2.8, 72.8, doseTicks, doseTicks, 0, 'radiation dose (J/kg)'),
    axis('x', 3, -0.5545, 1.560, residXTicks, residXTicks, 1, 'fitted values')
  ],
  yAxis:[
    axis('y', 0, 3.49, 23.30, meanTicks, meanTicks, 0, 'log(fludeoxyglucose)'),
    axis('y', 1, -0.740, 1.048, devTicks, devTicks, 1, 'log(fludeoxyglucose)'),
    axis('y', 2, -0.944, 1.434, devTicks, devTicks, 1, 'log(fludeoxyglucose)'),
    axis('y', 3, -0.02635, 0.02509, residYTicks, residYLabels, 2, 'residuals')
  ],
  series:series
};
const chart = echarts.init(document.getElementById('c'), null, {renderer:'canvas'});
chart.setOption(option);
</script>
</body></html>
